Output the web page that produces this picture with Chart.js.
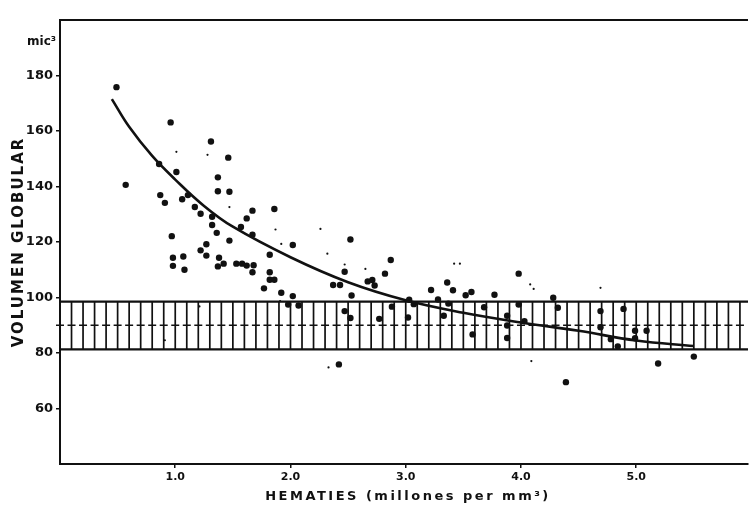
<!DOCTYPE html>
<html lang="es">
<head>
    <meta charset="UTF-8">
    <title>Volumen globular / hematies</title>
    <script src="https://cdn.jsdelivr.net/npm/chart.js@4.4.0/dist/chart.umd.min.js"></script>
    <style>
        body { margin: 0; background: #fff; }
        #wrap { width: 752px; height: 507px; }
    </style>
</head>
<body>
    <div id="wrap">
        <canvas id="hemChart" width="752" height="507"></canvas>
    </div>

    <script>
        // individual cases, large dots (millions per mm3, mic3)
        const dotX = [0.49, 0.57, 0.96, 0.86, 1.01, 1.31, 1.46, 1.37, 1.37, 1.47,
                      0.87, 0.91, 1.06, 1.11, 1.17, 1.22, 1.32, 1.32, 1.36, 1.57,
                      1.67, 1.62, 1.67, 1.86, 0.97, 1.47, 1.27, 1.22, 1.27, 0.98,
                      1.07, 1.38, 1.42, 0.98, 1.08, 1.37, 1.53, 1.58, 1.62, 1.68,
                      1.67, 2.02, 1.82, 1.82, 1.82, 1.86, 1.77, 1.92, 2.02, 2.52,
                      2.47, 2.37, 2.43, 2.53, 2.67, 2.71, 2.73, 2.87, 2.82, 1.98,
                      2.07, 2.47, 2.52, 2.77, 2.88, 3.03, 3.07, 3.02, 3.22, 3.28,
                      3.36, 3.41, 3.37, 3.33, 3.52, 3.57, 3.68, 3.77, 3.58, 2.42,
                      3.98, 4.28, 4.32, 3.98, 3.88, 3.88, 4.03, 3.88, 4.69, 4.69,
                      4.89, 4.99, 5.09, 4.78, 4.99, 4.84, 5.19, 5.50, 4.39];
        const dotY = [175.8, 140.6, 163.1, 148.1, 145.2, 156.2, 150.4, 143.3, 138.3, 138.1,
                      136.9, 134.1, 135.4, 136.9, 132.6, 130.2, 129.1, 126.1, 123.3, 125.4,
                      131.3, 128.5, 122.6, 131.9, 122.1, 120.5, 119.2, 117.0, 115.1, 114.3,
                      114.8, 114.3, 112.2, 111.4, 110.0, 111.2, 112.2, 112.2, 111.5, 111.6,
                      109.1, 118.9, 115.4, 109.1, 106.4, 106.4, 103.3, 101.7, 100.5, 120.9,
                      109.3, 104.5, 104.5, 100.7, 105.8, 106.3, 104.3, 113.5, 108.6, 97.5,
                      97.1, 95.1, 92.6, 92.3, 96.7, 99.2, 97.6, 92.8, 102.7, 99.3,
                      105.4, 102.6, 97.8, 93.4, 100.8, 102.0, 96.5, 101.0, 86.7, 75.9,
                      108.6, 99.9, 96.3, 97.5, 93.4, 89.9, 91.5, 85.4, 95.1, 89.3,
                      95.9, 88.0, 88.0, 85.0, 85.3, 82.4, 76.2, 78.7, 69.5];

        // faint small marks
        const specX = [1.01, 1.28, 1.47, 1.92, 1.87, 2.26, 2.32, 2.47, 2.65, 3.42,
                       3.47, 4.08, 4.11, 4.69, 4.09, 1.21, 0.91, 1.91, 2.33];
        const specY = [152.5, 151.4, 132.6, 119.3, 124.5, 124.7, 115.8, 111.9, 110.3, 112.2,
                       112.2, 104.7, 103.1, 103.5, 77.1, 96.8, 84.6, 98.7, 74.8];

        // fitted curve
        const curveX = [0.45, 0.6, 0.8, 1.0, 1.25, 1.5, 2.0, 2.5, 3.0, 3.5, 4.0, 4.5, 5.0, 5.5];
        const curveY = [171.5, 161.5, 151, 142.5, 133, 125.5, 114.5, 105.5, 99, 94.5, 91, 88, 84.5, 82.5];

        // normal range band
        const bandLow = 81.3;
        const bandHigh = 98.5;
        const bandMid = 90;
        const hatchStep = 0.1;

        const xTicks = [1, 2, 3, 4, 5];
        const xTickLabels = ['1.0', '2.0', '3.0', '4.0', '5.0'];
        const yTicks = [60, 80, 100, 120, 140, 160, 180];

        const ink = '#111';

        const toPoints = (xs, ys) => xs.map((v, i) => ({ x: v, y: ys[i] }));

        // hatched band behind the dots
        const bandPlugin = {
            id: 'normalBand',
            beforeDatasetsDraw(chart) {
                const { ctx, chartArea: a, scales: { x, y } } = chart;
                const top = y.getPixelForValue(bandHigh);
                const bot = y.getPixelForValue(bandLow);
                const mid = y.getPixelForValue(bandMid);
                ctx.save();
                ctx.strokeStyle = ink;
                ctx.lineWidth = 2.2;
                ctx.beginPath();
                ctx.moveTo(a.left, top); ctx.lineTo(a.right, top);
                ctx.moveTo(a.left, bot); ctx.lineTo(a.right, bot);
                ctx.stroke();

                ctx.lineWidth = 1.7;
                ctx.beginPath();
                for (let k = 1; ; k++) {
                    const px = x.getPixelForValue(k * hatchStep);
                    if (px > a.right) break;
                    ctx.moveTo(px, top); ctx.lineTo(px, bot);
                }
                ctx.stroke();

                // short crosses along the middle line
                ctx.lineWidth = 1.4;
                ctx.beginPath();
                for (let k = 0; ; k++) {
                    const px = x.getPixelForValue(k * hatchStep);
                    if (px > a.right) break;
                    ctx.moveTo(px - 4, mid); ctx.lineTo(px + 4, mid);
                }
                ctx.stroke();
                ctx.restore();
            }
        };

        // top frame line, axis titles and unit
        const framePlugin = {
            id: 'frameText',
            afterDraw(chart) {
                const { ctx, chartArea: a } = chart;
                ctx.save();
                ctx.strokeStyle = ink;
                ctx.lineWidth = 2;
                ctx.beginPath();
                ctx.moveTo(a.left, a.top); ctx.lineTo(a.right, a.top);
                ctx.stroke();

                ctx.fillStyle = ink;
                ctx.textBaseline = 'middle';

                ctx.font = 'bold 12px "DejaVu Sans"';
                ctx.textAlign = 'right';
                ctx.fillText('mic³', a.left - 4, 42);

                ctx.font = 'bold 13px "DejaVu Sans"';
                ctx.letterSpacing = '2.5px';
                ctx.textAlign = 'center';
                ctx.fillText('HEMATIES (millones per mm³)', (a.left + a.right) / 2 + 4, 497);

                ctx.font = 'bold 15px "DejaVu Sans"';
                ctx.letterSpacing = '2px';
                ctx.translate(19, (a.top + a.bottom) / 2);
                ctx.rotate(-Math.PI / 2);
                ctx.fillText('VOLUMEN GLOBULAR', 0, 0);
                ctx.restore();
            }
        };

        const ctx = document.getElementById('hemChart').getContext('2d');
        new Chart(ctx, {
            type: 'scatter',
            data: {
                datasets: [
                    {
                        type: 'line',
                        label: 'curva',
                        data: toPoints(curveX, curveY),
                        borderColor: ink,
                        borderWidth: 2.6,
                        pointRadius: 0,
                        tension: 0.4,
                        fill: false
                    },
                    {
                        label: 'casos',
                        data: toPoints(dotX, dotY),
                        backgroundColor: ink,
                        borderWidth: 0,
                        pointRadius: 3.2
                    },
                    {
                        label: 'marcas',
                        data: toPoints(specX, specY),
                        backgroundColor: ink,
                        borderWidth: 0,
                        pointRadius: 1.1
                    }
                ]
            },
            options: {
                responsive: false,
                animation: false,
                devicePixelRatio: 1,
                layout: { padding: { top: 20, right: 0, bottom: 0, left: 0 } },
                plugins: {
                    legend: { display: false },
                    tooltip: { enabled: false }
                },
                scales: {
                    x: {
                        type: 'linear',
                        min: 0,
                        max: 5.97,
                        afterBuildTicks: s => { s.ticks = xTicks.map(v => ({ value: v })); },
                        afterFit: s => { s.height = 43; },
                        grid: { drawOnChartArea: false, color: ink, tickLength: 4, lineWidth: 1.5 },
                        border: { color: ink, width: 2 },
                        ticks: {
                            color: ink,
                            padding: 3,
                            maxRotation: 0,
                            font: { family: 'DejaVu Sans', size: 11, weight: 'bold' },
                            callback: (v, i) => xTickLabels[i]
                        }
                    },
                    y: {
                        type: 'linear',
                        min: 40,
                        max: 200,
                        afterBuildTicks: s => { s.ticks = yTicks.map(v => ({ value: v })); },
                        afterFit: s => { s.width = 60; },
                        grid: { drawOnChartArea: false, color: ink, tickLength: 4, lineWidth: 1.5 },
                        border: { color: ink, width: 2 },
                        ticks: {
                            color: ink,
                            padding: 3,
                            font: { family: 'DejaVu Sans', size: 13, weight: 'bold' }
                        }
                    }
                }
            },
            plugins: [bandPlugin, framePlugin]
        });
    </script>
</body>
</html>
